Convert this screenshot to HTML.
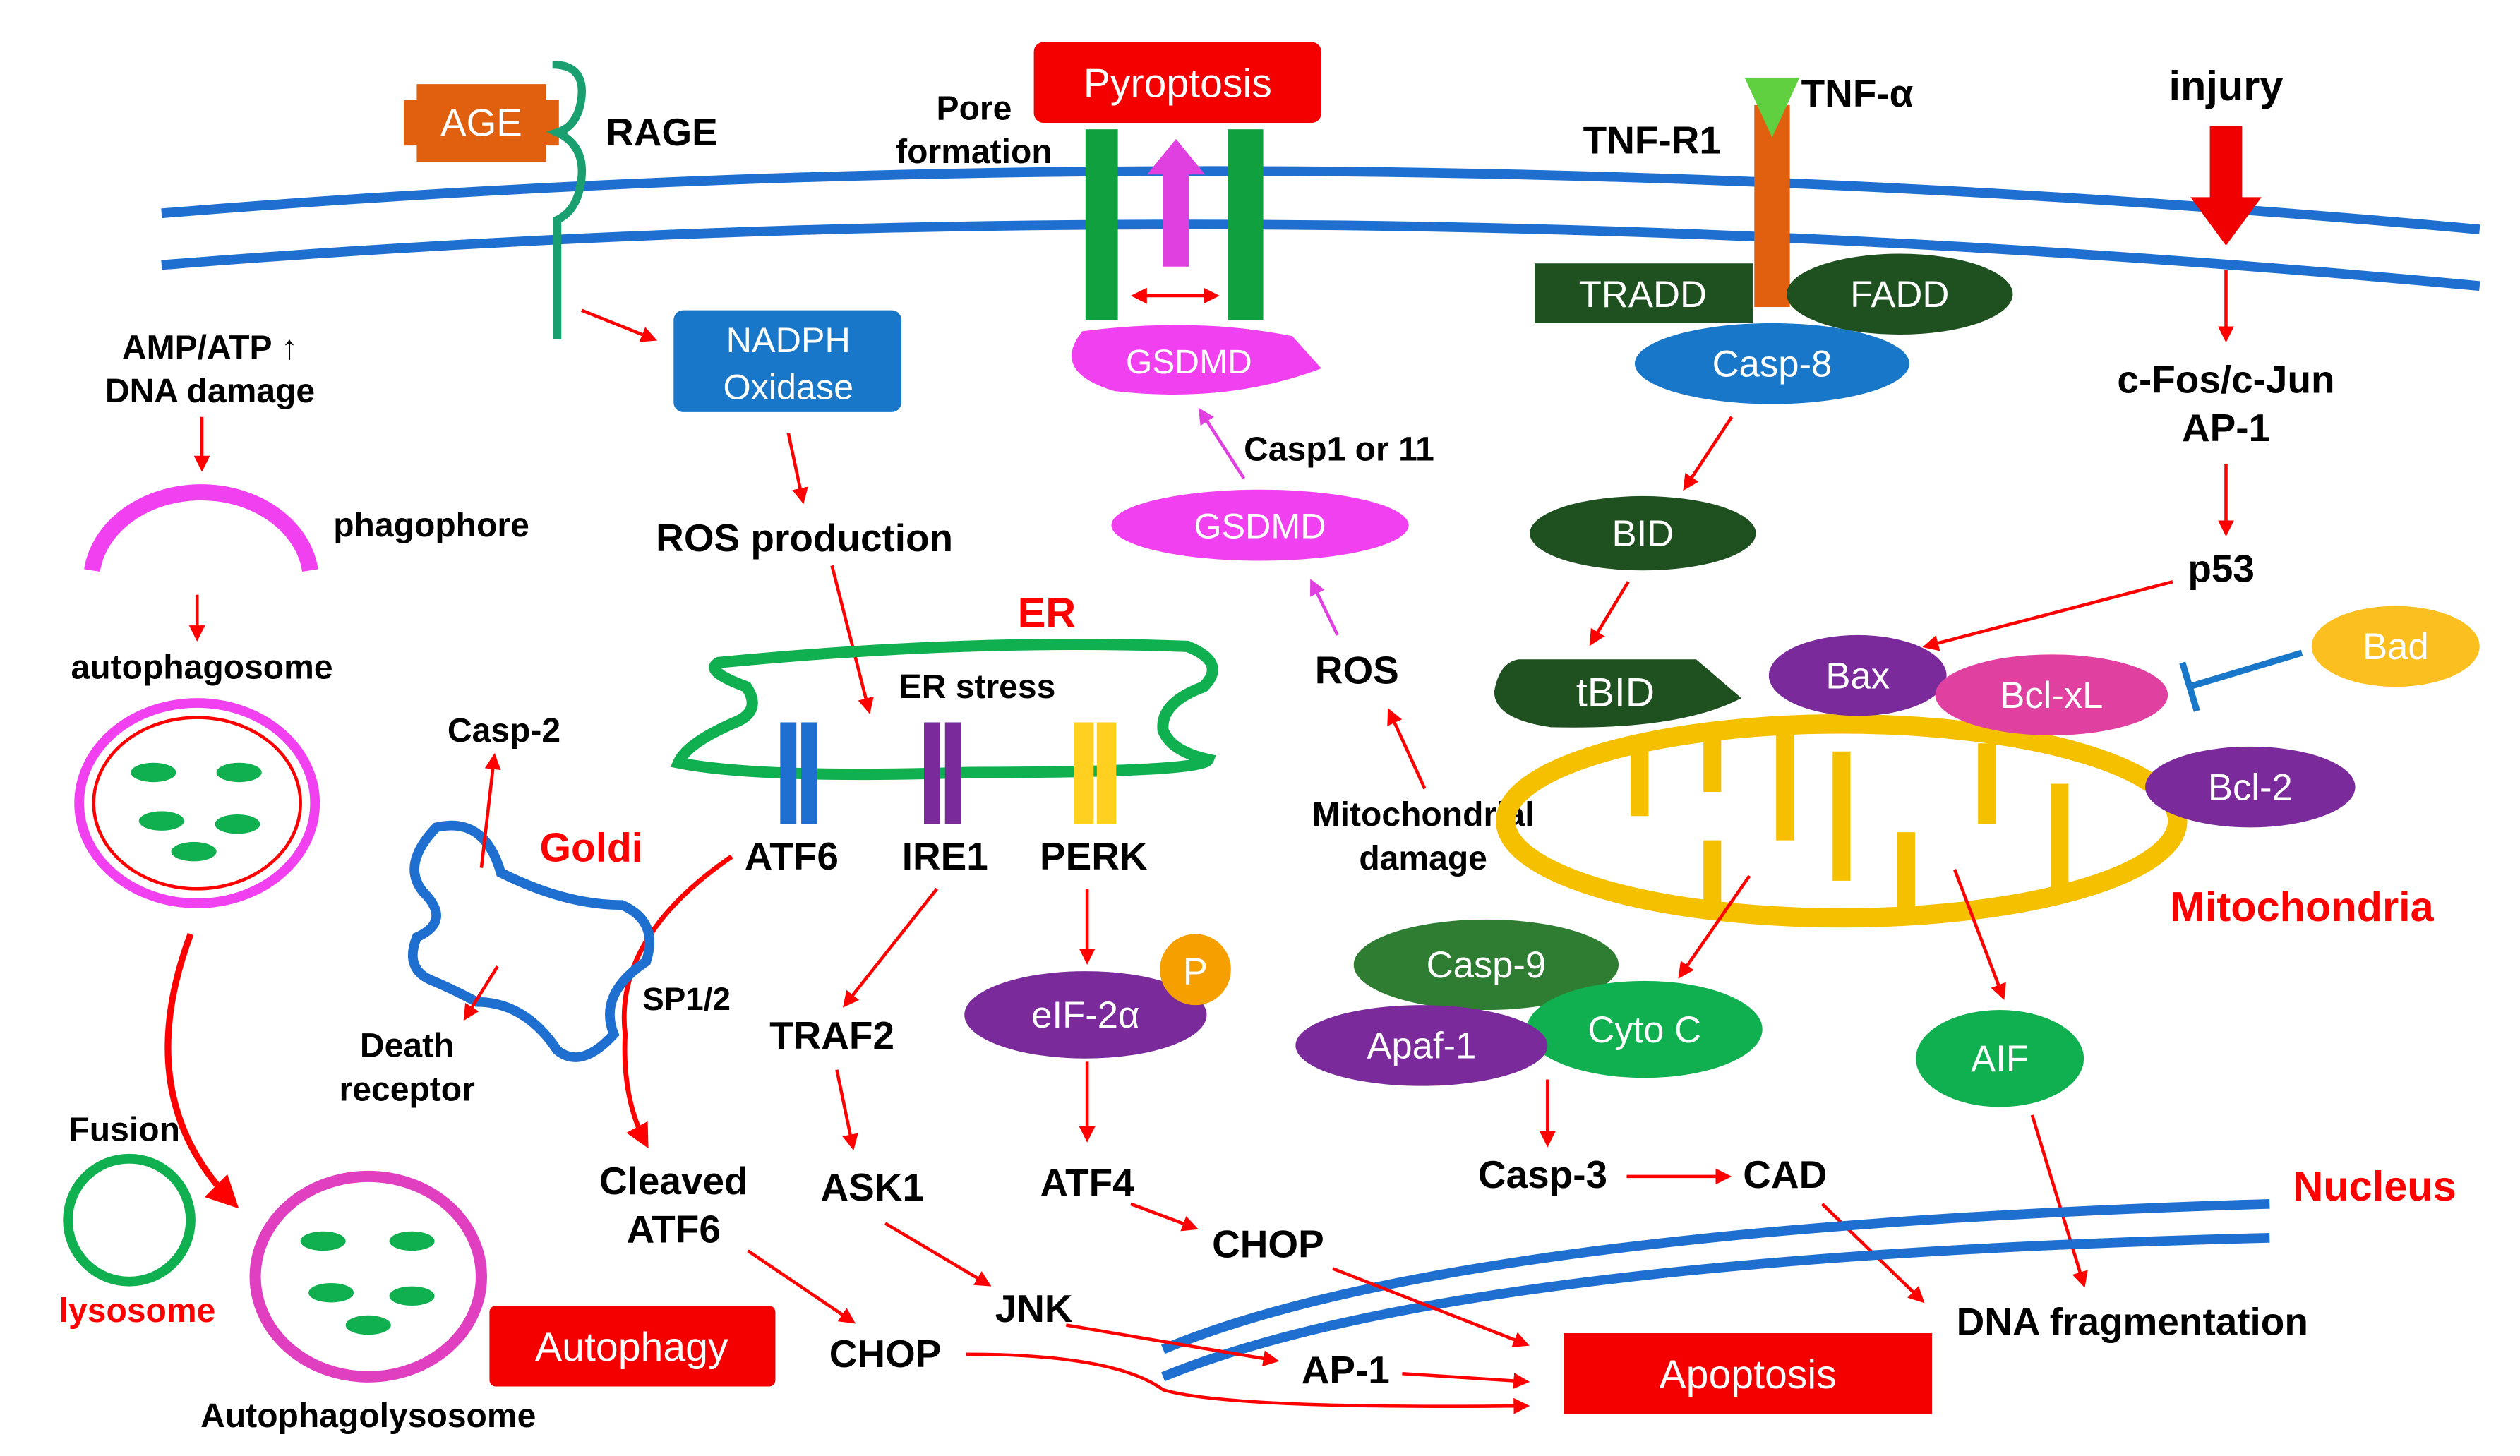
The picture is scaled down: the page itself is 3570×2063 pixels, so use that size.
<!DOCTYPE html>
<html><head><meta charset="utf-8"><style>
html,body{margin:0;padding:0;background:#fff;}
svg{display:block;}
text{font-family:"Liberation Sans",sans-serif;font-weight:bold;}
text.w{font-weight:normal;}
</style></head><body>
<svg width="3570" height="2063" viewBox="0 0 1560 901" preserveAspectRatio="none" xmlns="http://www.w3.org/2000/svg">
<defs>
<marker id="a" viewBox="0 0 10 10" refX="8" refY="5" markerWidth="5" markerHeight="5" orient="auto-start-reverse"><path d="M0,0 L10,5 L0,10 z" fill="#f00"/></marker>
<marker id="m" viewBox="0 0 10 10" refX="8" refY="5" markerWidth="5" markerHeight="5" orient="auto"><path d="M0,0 L10,5 L0,10 z" fill="#e040e0"/></marker>
</defs>
<rect width="1560" height="901" fill="#fff"/>
<!-- membrane -->
<path d="M100,132 Q800,75 1535,142" fill="none" stroke="#1e6fd0" stroke-width="6"/>
<path d="M100,164 Q800,108 1535,177" fill="none" stroke="#1e6fd0" stroke-width="6"/>
<!-- AGE / RAGE -->
<path d="M258,52 L338,52 L338,62 L346,62 L346,90 L338,90 L338,100 L258,100 L258,90 L250,90 L250,62 L258,62 z" fill="#e06010"/>
<text x="298" y="84" font-size="24" fill="#fff" text-anchor="middle" class="w">AGE</text>
<path d="M342,40 Q362,40 360,60 Q358,78 345,82 Q362,90 360,110 Q358,130 345,136 L345,210" fill="none" stroke="#1aa070" stroke-width="5"/>
<text x="375" y="90" font-size="24">RAGE</text>
<!-- Pyroptosis -->
<rect x="640" y="26" width="178" height="50" rx="6" fill="#f40000"/>
<text x="729" y="60" font-size="25" fill="#fff" text-anchor="middle" class="w">Pyroptosis</text>
<text x="603" y="74" font-size="21" text-anchor="middle">Pore</text>
<text x="603" y="101" font-size="21" text-anchor="middle">formation</text>
<rect x="672" y="80" width="20" height="118" fill="#10a040"/>
<rect x="760" y="80" width="22" height="118" fill="#10a040"/>
<path d="M720,165 L720,108 L710,108 L728,86 L746,108 L736,108 L736,165 z" fill="#e040e0"/>
<line x1="702" y1="183" x2="753" y2="183" stroke="#f00" stroke-width="2" marker-start="url(#a)" marker-end="url(#a)"/>
<path d="M670,205 Q740,196 800,208 L818,228 Q760,250 690,242 Q650,230 670,205 z" fill="#f040f0"/>
<text x="736" y="231" font-size="21" fill="#fff" text-anchor="middle" class="w">GSDMD</text>
<line x1="770" y1="296" x2="743" y2="254" stroke="#e040e0" stroke-width="2" marker-end="url(#m)"/>
<text x="770" y="285" font-size="21">Casp1 or 11</text>
<ellipse cx="780" cy="325" rx="92" ry="22" fill="#f040f0"/>
<text x="780" y="333" font-size="22" fill="#fff" text-anchor="middle" class="w">GSDMD</text>
<line x1="828" y1="393" x2="812" y2="360" stroke="#e040e0" stroke-width="2" marker-end="url(#m)"/>
<text x="840" y="423" font-size="24" text-anchor="middle">ROS</text>
<line x1="882" y1="488" x2="860" y2="440" stroke="#f00" stroke-width="2" marker-end="url(#a)"/>
<text x="881" y="511" font-size="21" text-anchor="middle">Mitochondrial</text>
<text x="881" y="538" font-size="21" text-anchor="middle">damage</text>
<!-- TNF -->
<rect x="1086" y="65" width="22" height="125" fill="#e06010"/>
<path d="M1080,48 L1114,48 L1097,85 z" fill="#60d040"/>
<text x="1115" y="66" font-size="24">TNF-α</text>
<text x="980" y="95" font-size="24">TNF-R1</text>
<rect x="950" y="163" width="135" height="37" fill="#1f5020"/>
<text x="1017" y="190" font-size="23" fill="#fff" text-anchor="middle" class="w">TRADD</text>
<ellipse cx="1176" cy="182" rx="70" ry="25" fill="#1f5020"/>
<text x="1176" y="190" font-size="23" fill="#fff" text-anchor="middle" class="w">FADD</text>
<ellipse cx="1097" cy="225" rx="85" ry="25" fill="#1877c8"/>
<text x="1097" y="233" font-size="23" fill="#fff" text-anchor="middle" class="w">Casp-8</text>
<line x1="1072" y1="258" x2="1043" y2="302" stroke="#f00" stroke-width="2" marker-end="url(#a)"/>
<ellipse cx="1017" cy="330" rx="70" ry="23" fill="#1f5020"/>
<text x="1017" y="338" font-size="23" fill="#fff" text-anchor="middle" class="w">BID</text>
<line x1="1008" y1="360" x2="985" y2="398" stroke="#f00" stroke-width="2" marker-end="url(#a)"/>
<path d="M940,408 L1050,408 L1078,432 Q1040,452 960,450 Q925,445 925,428 Q928,410 940,408 z" fill="#1f5020"/>
<text x="1000" y="437" font-size="25" fill="#fff" text-anchor="middle" class="w">tBID</text>
<!-- injury -->
<text x="1378" y="62" font-size="26" text-anchor="middle">injury</text>
<path d="M1368,78 L1388,78 L1388,122 L1400,122 L1378,152 L1356,122 L1368,122 z" fill="#f00000"/>
<line x1="1378" y1="167" x2="1378" y2="210" stroke="#f00" stroke-width="2" marker-end="url(#a)"/>
<text x="1378" y="243" font-size="24" text-anchor="middle">c-Fos/c-Jun</text>
<text x="1378" y="273" font-size="24" text-anchor="middle">AP-1</text>
<line x1="1378" y1="287" x2="1378" y2="330" stroke="#f00" stroke-width="2" marker-end="url(#a)"/>
<text x="1375" y="360" font-size="24" text-anchor="middle">p53</text>
<line x1="1345" y1="360" x2="1192" y2="400" stroke="#f00" stroke-width="2" marker-end="url(#a)"/>
<!-- mitochondria -->
<ellipse cx="1140" cy="508" rx="208" ry="60" fill="none" stroke="#f5c000" stroke-width="12"/>
<g stroke="#f5c000" stroke-width="11">
<line x1="1015" y1="460" x2="1015" y2="505"/><line x1="1060" y1="455" x2="1060" y2="490"/>
<line x1="1105" y1="452" x2="1105" y2="520"/><line x1="1140" y1="465" x2="1140" y2="545"/>
<line x1="1180" y1="515" x2="1180" y2="565"/><line x1="1230" y1="460" x2="1230" y2="510"/>
<line x1="1275" y1="485" x2="1275" y2="550"/><line x1="1060" y1="520" x2="1060" y2="560"/>
</g>
<ellipse cx="1150" cy="418" rx="55" ry="25" fill="#7a2a9a"/>
<text x="1150" y="426" font-size="23" fill="#fff" text-anchor="middle" class="w">Bax</text>
<ellipse cx="1270" cy="430" rx="72" ry="25" fill="#e040a0"/>
<text x="1270" y="438" font-size="23" fill="#fff" text-anchor="middle" class="w">Bcl-xL</text>
<ellipse cx="1483" cy="400" rx="52" ry="25" fill="#fbc020"/>
<text x="1483" y="408" font-size="23" fill="#fff" text-anchor="middle" class="w">Bad</text>
<line x1="1425" y1="404" x2="1355" y2="425" stroke="#1877c8" stroke-width="4"/>
<line x1="1351" y1="410" x2="1360" y2="440" stroke="#1877c8" stroke-width="4"/>
<ellipse cx="1393" cy="487" rx="65" ry="25" fill="#7a2a9a"/>
<text x="1393" y="495" font-size="23" fill="#fff" text-anchor="middle" class="w">Bcl-2</text>
<text x="1425" y="570" font-size="26" fill="#f00" text-anchor="middle">Mitochondria</text>
<line x1="1083" y1="542" x2="1040" y2="604" stroke="#f00" stroke-width="2" marker-end="url(#a)"/>
<line x1="1210" y1="538" x2="1240" y2="617" stroke="#f00" stroke-width="2" marker-end="url(#a)"/>
<ellipse cx="920" cy="597" rx="82" ry="28" fill="#2e7d32"/>
<text x="920" y="605" font-size="23" fill="#fff" text-anchor="middle" class="w">Casp-9</text>
<ellipse cx="1018" cy="637" rx="73" ry="30" fill="#10b050"/>
<text x="1018" y="645" font-size="23" fill="#fff" text-anchor="middle" class="w">Cyto C</text>
<ellipse cx="880" cy="647" rx="78" ry="25" fill="#7a2a9a"/>
<text x="880" y="655" font-size="23" fill="#fff" text-anchor="middle" class="w">Apaf-1</text>
<ellipse cx="1238" cy="655" rx="52" ry="30" fill="#10b050"/>
<text x="1238" y="663" font-size="23" fill="#fff" text-anchor="middle" class="w">AIF</text>
<line x1="958" y1="668" x2="958" y2="708" stroke="#f00" stroke-width="2" marker-end="url(#a)"/>
<text x="955" y="735" font-size="24" text-anchor="middle">Casp-3</text>
<line x1="1007" y1="728" x2="1070" y2="728" stroke="#f00" stroke-width="2" marker-end="url(#a)"/>
<text x="1105" y="735" font-size="24" text-anchor="middle">CAD</text>
<line x1="1128" y1="745" x2="1190" y2="805" stroke="#f00" stroke-width="2" marker-end="url(#a)"/>
<line x1="1258" y1="690" x2="1290" y2="795" stroke="#f00" stroke-width="2" marker-end="url(#a)"/>
<!-- nucleus -->
<path d="M720,835 Q900,760 1405,745" fill="none" stroke="#1e6fd0" stroke-width="6"/>
<path d="M720,852 Q900,778 1405,766" fill="none" stroke="#1e6fd0" stroke-width="6"/>
<text x="1470" y="743" font-size="26" fill="#f00" text-anchor="middle">Nucleus</text>
<text x="1320" y="826" font-size="24" text-anchor="middle">DNA fragmentation</text>
<rect x="968" y="825" width="228" height="50" fill="#f40000"/>
<text x="1082" y="859" font-size="25" fill="#fff" text-anchor="middle" class="w">Apoptosis</text>
<!-- NADPH -->
<line x1="360" y1="192" x2="405" y2="210" stroke="#f00" stroke-width="2" marker-end="url(#a)"/>
<rect x="417" y="192" width="141" height="63" rx="6" fill="#1877c8"/>
<text x="488" y="218" font-size="22" fill="#fff" text-anchor="middle" class="w">NADPH</text>
<text x="488" y="247" font-size="22" fill="#fff" text-anchor="middle" class="w">Oxidase</text>
<line x1="488" y1="268" x2="497" y2="310" stroke="#f00" stroke-width="2" marker-end="url(#a)"/>
<text x="498" y="341" font-size="24" text-anchor="middle">ROS production</text>
<line x1="515" y1="350" x2="538" y2="440" stroke="#f00" stroke-width="2" marker-end="url(#a)"/>
<!-- ER -->
<text x="648" y="388" font-size="26" fill="#f00" text-anchor="middle">ER</text>
<path d="M445,410 Q600,395 735,400 Q760,410 745,425 Q718,435 720,452 Q725,465 748,470 Q745,478 600,478 Q470,482 420,472 Q425,460 455,447 Q472,440 462,425 Q435,415 445,410 z" fill="none" stroke="#10b050" stroke-width="7"/>
<text x="605" y="432" font-size="21" text-anchor="middle">ER stress</text>
<rect x="483" y="447" width="10" height="63" fill="#1e6fd0"/><rect x="496" y="447" width="10" height="63" fill="#1e6fd0"/>
<rect x="572" y="447" width="10" height="63" fill="#7a2a9a"/><rect x="585" y="447" width="10" height="63" fill="#7a2a9a"/>
<rect x="665" y="447" width="12" height="63" fill="#ffd020"/><rect x="679" y="447" width="12" height="63" fill="#ffd020"/>
<text x="490" y="538" font-size="24" text-anchor="middle">ATF6</text>
<text x="585" y="538" font-size="24" text-anchor="middle">IRE1</text>
<text x="677" y="538" font-size="24" text-anchor="middle">PERK</text>
<line x1="580" y1="550" x2="523" y2="622" stroke="#f00" stroke-width="2" marker-end="url(#a)"/>
<line x1="673" y1="550" x2="673" y2="595" stroke="#f00" stroke-width="2" marker-end="url(#a)"/>
<ellipse cx="672" cy="628" rx="75" ry="27" fill="#7a2a9a"/>
<text x="672" y="636" font-size="23" fill="#fff" text-anchor="middle" class="w">eIF-2α</text>
<circle cx="740" cy="600" r="22" fill="#f5a000"/>
<text x="740" y="609" font-size="23" fill="#fff" text-anchor="middle" class="w">P</text>
<line x1="673" y1="657" x2="673" y2="705" stroke="#f00" stroke-width="2" marker-end="url(#a)"/>
<text x="673" y="740" font-size="24" text-anchor="middle">ATF4</text>
<line x1="700" y1="745" x2="740" y2="760" stroke="#f00" stroke-width="2" marker-end="url(#a)"/>
<text x="785" y="778" font-size="24" text-anchor="middle">CHOP</text>
<line x1="825" y1="785" x2="945" y2="832" stroke="#f00" stroke-width="2" marker-end="url(#a)"/>
<text x="515" y="649" font-size="24" text-anchor="middle">TRAF2</text>
<line x1="518" y1="662" x2="528" y2="710" stroke="#f00" stroke-width="2" marker-end="url(#a)"/>
<text x="540" y="743" font-size="24" text-anchor="middle">ASK1</text>
<line x1="548" y1="757" x2="612" y2="795" stroke="#f00" stroke-width="2" marker-end="url(#a)"/>
<text x="640" y="818" font-size="24" text-anchor="middle">JNK</text>
<line x1="660" y1="820" x2="790" y2="842" stroke="#f00" stroke-width="2" marker-end="url(#a)"/>
<text x="833" y="856" font-size="24" text-anchor="middle">AP-1</text>
<line x1="868" y1="850" x2="945" y2="855" stroke="#f00" stroke-width="2" marker-end="url(#a)"/>
<path d="M453,530 Q380,580 387,640 Q385,680 400,708" fill="none" stroke="#f00" stroke-width="3" marker-end="url(#a)"/>
<text x="425" y="625" font-size="20" text-anchor="middle">SP1/2</text>
<text x="417" y="739" font-size="24" text-anchor="middle">Cleaved</text>
<text x="417" y="769" font-size="24" text-anchor="middle">ATF6</text>
<line x1="463" y1="774" x2="528" y2="818" stroke="#f00" stroke-width="2" marker-end="url(#a)"/>
<text x="548" y="846" font-size="24" text-anchor="middle">CHOP</text>
<path d="M598,838 Q690,838 720,860 Q760,872 945,870" fill="none" stroke="#f00" stroke-width="2" marker-end="url(#a)"/>
<!-- Golgi -->
<path d="M270,512 Q300,505 310,540 Q350,560 385,560 Q408,570 400,595 Q370,615 380,640 Q360,662 345,650 Q325,620 295,620 Q280,612 268,607 Q250,600 258,580 Q280,570 262,552 Q248,535 270,512 z" fill="none" stroke="#1e6fd0" stroke-width="6"/>
<text x="366" y="533" font-size="25" fill="#f00" text-anchor="middle">Goldi</text>
<line x1="298" y1="537" x2="306" y2="468" stroke="#f00" stroke-width="2" marker-end="url(#a)"/>
<text x="312" y="459" font-size="21" text-anchor="middle">Casp-2</text>
<line x1="308" y1="598" x2="288" y2="630" stroke="#f00" stroke-width="2" marker-end="url(#a)"/>
<text x="252" y="654" font-size="21" text-anchor="middle">Death</text>
<text x="252" y="681" font-size="21" text-anchor="middle">receptor</text>
<!-- Autophagy -->
<text x="130" y="222" font-size="21" text-anchor="middle">AMP/ATP ↑</text>
<text x="130" y="249" font-size="21" text-anchor="middle">DNA damage</text>
<line x1="125" y1="258" x2="125" y2="290" stroke="#f00" stroke-width="2" marker-end="url(#a)"/>
<path d="M57,353 A68,55 0 0 1 192,353" fill="none" stroke="#f040f0" stroke-width="10"/>
<text x="267" y="332" font-size="21" text-anchor="middle">phagophore</text>
<line x1="122" y1="368" x2="122" y2="395" stroke="#f00" stroke-width="2" marker-end="url(#a)"/>
<text x="125" y="420" font-size="21" text-anchor="middle">autophagosome</text>
<ellipse cx="122" cy="497" rx="73" ry="62" fill="#fff" stroke="#f040f0" stroke-width="6"/>
<ellipse cx="122" cy="497" rx="64" ry="53" fill="none" stroke="#f00" stroke-width="2"/>
<g fill="#10b050">
<ellipse cx="95" cy="478" rx="14" ry="6"/><ellipse cx="148" cy="478" rx="14" ry="6"/>
<ellipse cx="100" cy="508" rx="14" ry="6"/><ellipse cx="147" cy="510" rx="14" ry="6"/>
<ellipse cx="120" cy="527" rx="14" ry="6"/>
</g>
<path d="M118,578 Q80,680 145,745" fill="none" stroke="#f00" stroke-width="4" marker-end="url(#a)"/>
<text x="77" y="706" font-size="21" text-anchor="middle">Fusion</text>
<circle cx="80" cy="755" r="38" fill="none" stroke="#10b050" stroke-width="6"/>
<text x="85" y="818" font-size="21" fill="#f00" text-anchor="middle">lysosome</text>
<ellipse cx="228" cy="790" rx="70" ry="62" fill="none" stroke="#e040c0" stroke-width="7"/>
<g fill="#10b050">
<ellipse cx="200" cy="768" rx="14" ry="6"/><ellipse cx="255" cy="768" rx="14" ry="6"/>
<ellipse cx="205" cy="800" rx="14" ry="6"/><ellipse cx="255" cy="802" rx="14" ry="6"/>
<ellipse cx="228" cy="820" rx="14" ry="6"/>
</g>
<rect x="303" y="808" width="177" height="50" rx="4" fill="#f40000"/>
<text x="391" y="842" font-size="25" fill="#fff" text-anchor="middle" class="w">Autophagy</text>
<text x="228" y="883" font-size="21" text-anchor="middle">Autophagolysosome</text>
</svg>
</body></html>
